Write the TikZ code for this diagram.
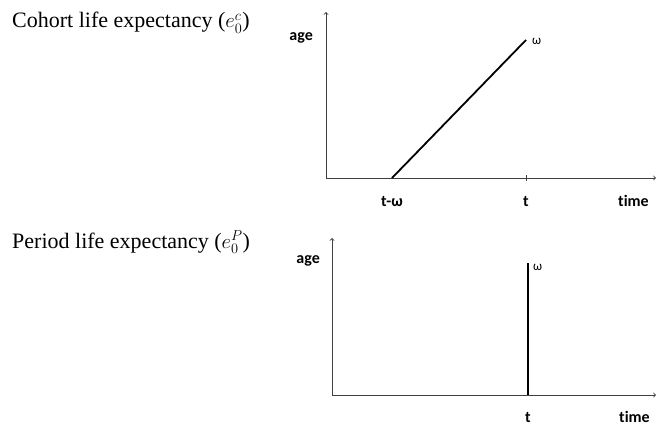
\documentclass[tikz,border=0pt]{standalone}
\usepackage{fontspec}
\setmainfont{Liberation Serif}
\newfontfamily\axisfont[Ligatures=NoCommon]{Carlito}
\begin{document}
\begin{tikzpicture}[x=1pt,y=-1pt,font=\axisfont\bfseries\fontsize{16}{18}\selectfont,
  every node/.style={inner sep=0pt},
  axis/.style={->,line width=.9pt,draw=black!75},
  life/.style={line width=1.8pt},
  omega/.style={anchor=base west,font=\axisfont\fontsize{13}{15}\selectfont},
  title/.style={anchor=base west,font=\rmfamily\fontsize{22}{24}\selectfont}]
  \useasboundingbox (0,0) rectangle (656,425);
  % cohort
  \node[title] (ttl1) at (12,28) {Cohort life expectancy ($e_0^c$)};
  \coordinate (o1) at (326,178);
  \coordinate (y1) at (326,12);
  \coordinate (x1) at (656,178);
  \draw[axis] (o1) -- (y1);
  \draw[axis] (o1) -- (x1);
  \node[anchor=base east] (age1) at (313,41) {age};
  \coordinate (b1) at (392,178);
  \coordinate (e1) at (526,40);
  \draw[life] (b1) -- (e1);
  \draw[line width=.8pt,draw=black!75] (526,175) -- (526,181);
  \node[omega] (w1) at (532,45) {ω};
  \node[anchor=base] (tw1) at (392,206) {t-ω};
  \node[anchor=base] (t1) at (526,206) {t};
  \node[anchor=base west] (time1) at (618,206) {time};
  % period
  \node[title] (ttl2) at (12,248) {Period life expectancy ($e_0^P$)};
  \coordinate (o2) at (332,395);
  \coordinate (y2) at (332,238);
  \coordinate (x2) at (656,395);
  \draw[axis] (o2) -- (y2);
  \draw[axis] (o2) -- (x2);
  \node[anchor=base east] (age2) at (320,263) {age};
  \coordinate (b2) at (528,395);
  \coordinate (e2) at (528,263);
  \draw[life] (b2) -- (e2);
  \node[omega] (w2) at (533,270) {ω};
  \node[anchor=base] (t2) at (528,422) {t};
  \node[anchor=base west] (time2) at (619,422) {time};
\end{tikzpicture}
\end{document}
